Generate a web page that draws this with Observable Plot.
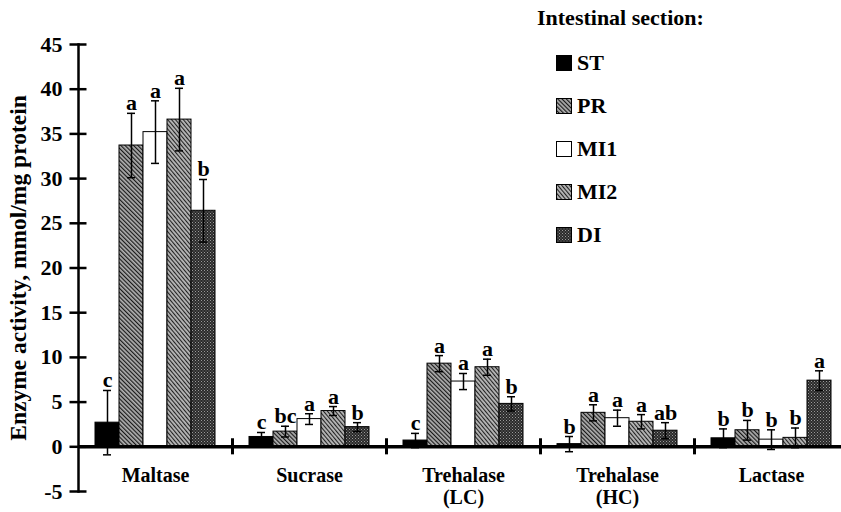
<!DOCTYPE html>
<html>
<head>
<meta charset="utf-8">
<script src="https://cdn.jsdelivr.net/npm/d3@7"></script>
<script src="https://cdn.jsdelivr.net/npm/@observablehq/plot@0.6"></script>
<style>
  html, body { margin: 0; padding: 0; background: #fff; }
  #wrap { position: relative; width: 841px; height: 512px; overflow: hidden;
          font-family: "Liberation Serif", "Times New Roman", serif; font-weight: bold; color: #000; }
  #legend { position: absolute; left: 537px; top: 4px; font-size: 22px; }
  #legend .title { height: 28px; line-height: 28px; white-space: nowrap; }
  #legend .item { position: relative; height: 43px; margin-left: 19px; display: flex; align-items: center; }
  #legend .item svg { margin-right: 5px; }
</style>
</head>
<body>
<svg width="0" height="0" style="position:absolute">
  <defs>
    <pattern id="pat-pr" patternUnits="userSpaceOnUse" width="3" height="3" patternTransform="rotate(-45)">
      <rect width="3" height="3" fill="#b0b0b0"></rect>
      <rect width="1.2" height="3" fill="#1a1a1a"></rect>
    </pattern>
    <pattern id="pat-mi2" patternUnits="userSpaceOnUse" width="3" height="3" patternTransform="rotate(-40)">
      <rect width="3" height="3" fill="#b8b8b8"></rect>
      <rect width="1.1" height="3" fill="#222"></rect>
    </pattern>
    <pattern id="pat-di" patternUnits="userSpaceOnUse" width="3" height="3">
      <rect width="3" height="3" fill="#2a2a2a"></rect>
      <rect x="0" y="0" width="1" height="1" fill="#9a9a9a"></rect>
      <rect x="1.5" y="1.5" width="1" height="1" fill="#808080"></rect>
    </pattern>
  </defs>
</svg>
<div id="wrap">
  <div id="chart"></div>
  <div id="legend"></div>
</div>
<script>
// ---- data ----
const enzymes = ["Maltase", "Sucrase", "Trehalase (LC)", "Trehalase (HC)", "Lactase"];
const enzymeTickLabels = ["Maltase", "Sucrase", "Trehalase\n(LC)", "Trehalase\n(HC)", "Lactase"];
const sections = ["ST", "PR", "MI1", "MI2", "DI"];
const yTicks = [-5, 0, 5, 10, 15, 20, 25, 30, 35, 40, 45];

const maltaseMean = [2.7, 33.7, 35.2, 36.6, 26.4];
const maltaseErr = [3.6, 3.6, 3.5, 3.5, 3.5];
const maltaseLetters = ["c", "a", "a", "a", "b"];

const sucraseMean = [1.1, 1.7, 3.1, 4.0, 2.2];
const sucraseErr = [0.5, 0.6, 0.6, 0.5, 0.5];
const sucraseLetters = ["c", "bc", "a", "a", "b"];

const trehalaseLCMean = [0.7, 9.3, 7.3, 8.9, 4.8];
const trehalaseLCErr = [0.8, 0.9, 0.9, 0.9, 0.8];
const trehalaseLCLetters = ["c", "a", "a", "a", "b"];

const trehalaseHCMean = [0.3, 3.8, 3.2, 2.8, 1.8];
const trehalaseHCErr = [0.85, 0.9, 0.9, 0.8, 0.9];
const trehalaseHCLetters = ["b", "a", "a", "a", "ab"];

const lactaseMean = [0.95, 1.85, 0.8, 1.0, 7.4];
const lactaseErr = [1.05, 1.1, 1.1, 1.1, 1.1];
const lactaseLetters = ["b", "b", "b", "b", "a"];

// ---- styles ----
const sectionFills = ["#000", "url(#pat-pr)", "#fff", "url(#pat-mi2)", "url(#pat-di)"];

const series = [
  [maltaseMean, maltaseErr, maltaseLetters],
  [sucraseMean, sucraseErr, sucraseLetters],
  [trehalaseLCMean, trehalaseLCErr, trehalaseLCLetters],
  [trehalaseHCMean, trehalaseHCErr, trehalaseHCLetters],
  [lactaseMean, lactaseErr, lactaseLetters]
];
const rows = enzymes.flatMap((enzyme, i) => sections.map((section, j) => ({
  enzyme, section,
  mean: series[i][0][j], err: series[i][1][j], letter: series[i][2][j]
})));
const tickLabel = new Map(enzymes.map((e, i) => [e, enzymeTickLabels[i]]));

const chart = Plot.plot({
  width: 841,
  height: 512,
  marginTop: 44,
  marginBottom: 21,
  marginLeft: 78,
  marginRight: -7,
  style: { fontFamily: "'Liberation Serif', 'Times New Roman', serif", fontWeight: "bold", fontSize: "20px", color: "#000", background: "#fff", overflow: "hidden" },
  fx: { domain: enzymes, padding: 0, paddingInner: 0, paddingOuter: 0, axis: null, label: null },
  x: { domain: sections, paddingInner: 0, paddingOuter: 0.7, axis: null, label: null },
  y: { domain: [-5, 45], axis: null, label: null },
  color: { type: "ordinal", domain: sections, range: sectionFills, legend: false },
  marks: [
    Plot.barY(rows, { fx: "enzyme", x: "section", y: "mean", fill: "section", stroke: "#000", strokeWidth: 1 }),
    Plot.ruleX(rows, { fx: "enzyme", x: "section", y1: d => d.mean - d.err, y2: d => d.mean + d.err, stroke: "#000", strokeWidth: 1.5 }),
    Plot.tickY(rows, { fx: "enzyme", x: "section", y: d => d.mean + d.err, stroke: "#000", strokeWidth: 1.5, insetLeft: 8, insetRight: 8 }),
    Plot.tickY(rows, { fx: "enzyme", x: "section", y: d => d.mean - d.err, stroke: "#000", strokeWidth: 1.5, insetLeft: 8, insetRight: 8 }),
    Plot.text(rows, { fx: "enzyme", x: "section", y: d => d.mean + d.err, text: "letter", lineAnchor: "bottom", dy: -3, fontSize: 22, fontWeight: "bold", fill: "#000" }),
    Plot.ruleY([0], { stroke: "#000", strokeWidth: 3.5 }),
    Plot.ruleX(enzymes, { fx: d => d, x: () => sections[sections.length - 1], y1: -0.9, y2: 0.9, dx: 29, stroke: "#000", strokeWidth: 3 }),
    Plot.frame({ anchor: "left", facetAnchor: "left", stroke: "#000", strokeWidth: 2.5 }),
    Plot.axisY({ ticks: yTicks, anchor: "left", tickSize: 17, dx: 8.5, fill: "none", stroke: "#000", strokeWidth: 2.5, label: null }),
    Plot.axisY({ ticks: yTicks, anchor: "left", tickSize: 8, tickPadding: 8, stroke: "none", fill: "#000", fontSize: 22,
      tickFormat: d => String(d),
      label: "Enzyme activity, mmol/mg protein", labelAnchor: "center", labelOffset: 69, labelArrow: "none" }),
    Plot.axisFx({ anchor: "bottom", tickSize: 0, tickPadding: 0, dy: -25, fontSize: 20, lineHeight: 1.1, tickFormat: d => tickLabel.get(d), label: null, fill: "#000" })
  ]
});
document.getElementById("chart").appendChild(chart);

// enlarge the rotated y-axis title to match the reference
chart.querySelectorAll("text").forEach(t => {
  if (t.textContent === "Enzyme activity, mmol/mg protein") t.setAttribute("font-size", "23.5");
});

// ---- legend ----
const legend = document.getElementById("legend");
const title = document.createElement("div");
title.className = "title";
title.textContent = "Intestinal section:";
legend.appendChild(title);
const spacer = document.createElement("div");
spacer.style.height = "9px";
legend.appendChild(spacer);
sections.forEach((s, i) => {
  const item = document.createElement("div");
  item.className = "item";
  item.innerHTML = `<svg width="16" height="16"><rect x="0.5" y="0.5" width="15" height="15" fill="${sectionFills[i]}" stroke="#000" stroke-width="1"></rect></svg><span>${s}</span>`;
  legend.appendChild(item);
});
</script>
</body>
</html>
